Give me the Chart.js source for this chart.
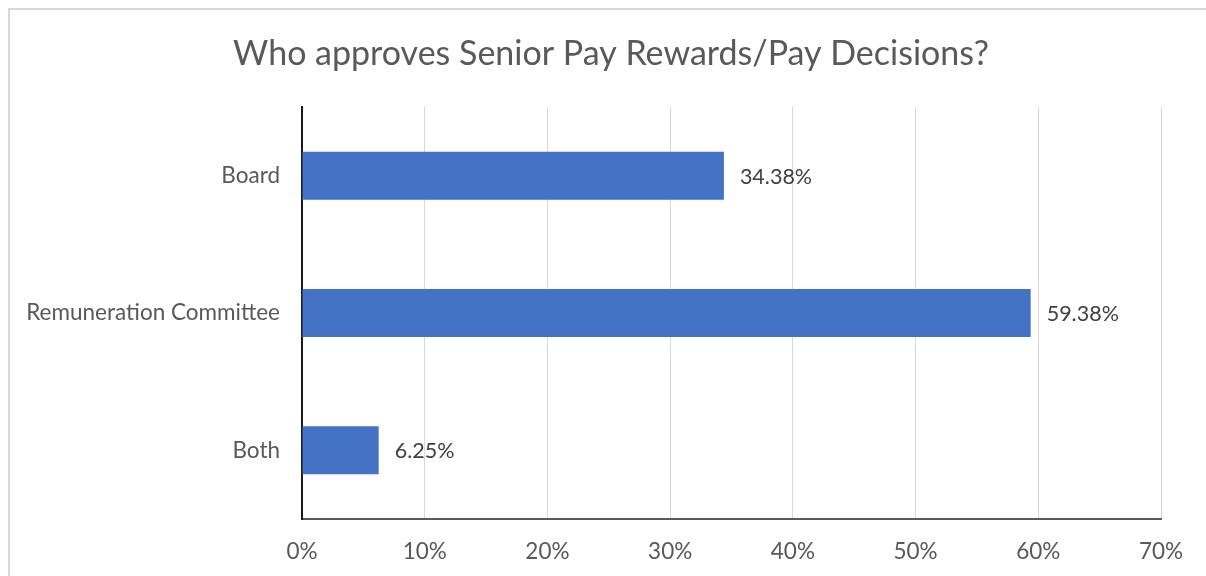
<!DOCTYPE html>
<html>
<head>
<meta charset="utf-8">
<script src="https://cdn.jsdelivr.net/npm/chart.js@4"></script>
<style>
  html, body { margin: 0; padding: 0; background: #fff; overflow: hidden; }
  #frame { position: absolute; left: 8px; top: 8px; width: 1400px; height: 800px; border: 2px solid #d9d9d9; }
  #wrap { position: absolute; left: 0; top: 0; width: 1206px; height: 576px; }
</style>
</head>
<body>
<div id="frame"></div>
<div id="wrap"><canvas id="payChart"></canvas></div>
<script>
// data
const categories = ['Board', 'Remuneration Committee', 'Both'];
const shares = [34.38, 59.38, 6.25];
const xTicks = [0, 10, 20, 30, 40, 50, 60, 70];
const chartTitle = 'Who approves Senior Pay Rewards/Pay Decisions?';

const FONT = 'Lato, "Open Sans", sans-serif';

// title is centred on the whole frame, not just the plot, so draw it by hand
const frameTitle = {
  id: 'frameTitle',
  afterDraw(chart) {
    const ctx = chart.ctx;
    ctx.save();
    ctx.font = '34px ' + FONT;
    ctx.fillStyle = '#595959';
    ctx.textAlign = 'center';
    ctx.textBaseline = 'alphabetic';
    ctx.fillText(chartTitle, 611, 65);
    ctx.restore();
  }
};

// writes the value just past the end of each bar
const barValueLabels = {
  id: 'barValueLabels',
  afterDatasetsDraw(chart) {
    const ctx = chart.ctx;
    const meta = chart.getDatasetMeta(0);
    ctx.save();
    ctx.font = '21.5px ' + FONT;
    ctx.fillStyle = '#404040';
    ctx.textAlign = 'left';
    ctx.textBaseline = 'middle';
    meta.data.forEach((bar, i) => {
      ctx.fillText(shares[i].toFixed(2) + '%', bar.x + 16, bar.y + 1);
    });
    ctx.restore();
  }
};

new Chart(document.getElementById('payChart'), {
  type: 'bar',
  data: {
    labels: categories,
    datasets: [{
      data: shares,
      backgroundColor: '#4472C4',
      categoryPercentage: 1,
      barPercentage: 0.35
    }]
  },
  options: {
    indexAxis: 'y',
    responsive: true,
    maintainAspectRatio: false,
    animation: false,
    layout: { padding: { left: 0, right: 45, top: 107, bottom: 0 } },
    plugins: {
      legend: { display: false },
      tooltip: { enabled: false },
      title: { display: false }
    },
    scales: {
      x: {
        min: 0,
        max: 70,
        afterBuildTicks: s => { s.ticks = xTicks.map(v => ({ value: v })); },
        afterFit: s => { s.height = 57; },
        ticks: {
          color: '#595959',
          font: { family: FONT, size: 22.5 },
          padding: 19,
          callback: v => v + '%'
        },
        grid: { color: '#d9d9d9', lineWidth: 1, drawTicks: false },
        border: { color: '#595959', width: 2 }
      },
      y: {
        afterFit: s => { s.width = 302; },
        ticks: {
          color: '#595959',
          font: { family: FONT, size: 22.5 },
          padding: 22
        },
        grid: { display: false, drawTicks: false },
        border: { color: '#1a1a1a', width: 2 }
      }
    }
  },
  plugins: [barValueLabels, frameTitle]
});
</script>
</body>
</html>
